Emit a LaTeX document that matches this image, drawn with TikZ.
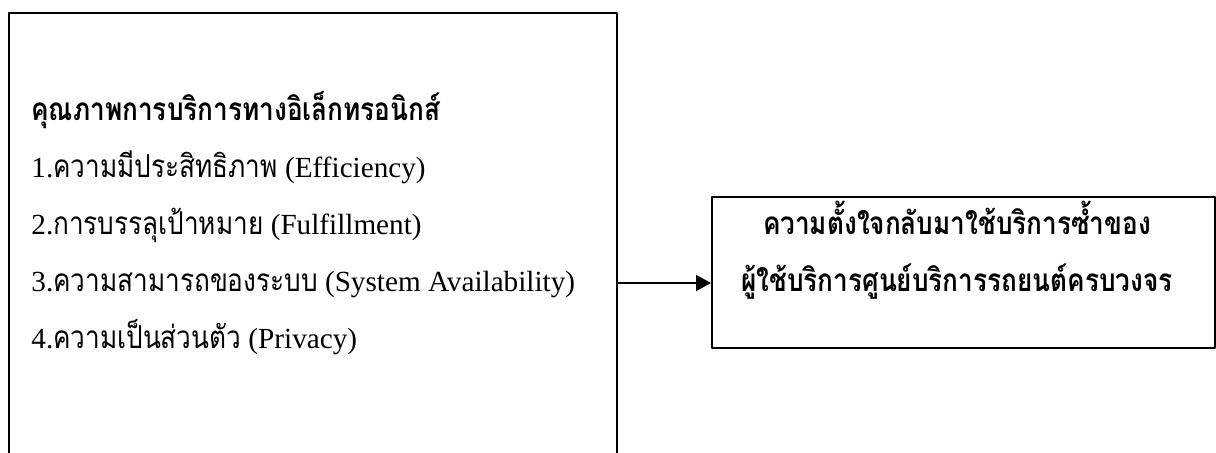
\documentclass[tikz,border=0pt]{standalone}
\usepackage{fontspec}
\setmainfont{Liberation Serif}
\newfontfamily\thaifont[Script=Thai,Scale=1.08,FakeStretch=0.83]{Loma}
\usetikzlibrary{arrows.meta}
\newcommand{\thai}[1]{{\thaifont #1}}
\tikzset{
  every picture/.style={line join=round, >=Triangle},
  framebox/.style={draw, line width=1.1pt},
  item/.style={anchor=base west, inner sep=0pt, font=\fontsize{14.6}{17}\selectfont},
  head/.style={item, font=\fontsize{14.6}{17}\selectfont\bfseries},
}

\begin{document}
\begin{tikzpicture}[x=0.5pt,y=-0.5pt]
\useasboundingbox (0,0) rectangle (1216,452);
% left box (runs past the bottom edge)
\node[framebox,anchor=north west,minimum width=304pt,minimum height=232pt] (quality) at (8,12) {};
\node[head] (title) at (31,120) {\thai{คุณภาพการบริการทางอิเล็กทรอนิกส์}};
\foreach \k/\tx/\en in {1/ความมีประสิทธิภาพ/Efficiency, 2/การบรรลุเป้าหมาย/Fulfillment,
  3/ความสามารถของระบบ/System Availability, 4/ความเป็นส่วนตัว/Privacy}{
  \node[item] (l\k) at (31,120+57*\k) {\k.\thai{\tx} (\en)};
}
% right box
\node[framebox,anchor=north west,minimum width=251.5pt,minimum height=75.5pt] (intent) at (711,196) {};
\node[head,anchor=base] (r1) at (957,234) {\thai{ความตั้งใจกลับมาใช้บริการซ้ำของ}};
\node[head,anchor=base] (r2) at (957,291) {\thai{ผู้ใช้บริการศูนย์บริการรถยนต์ครบวงจร}};
% arrow
\coordinate (row) at (0,283);
\draw[->,line width=1pt,>={Triangle[length=7.5pt,width=8pt]}] (quality.east |- row) -- (intent.west |- row);
\end{tikzpicture}
\end{document}
